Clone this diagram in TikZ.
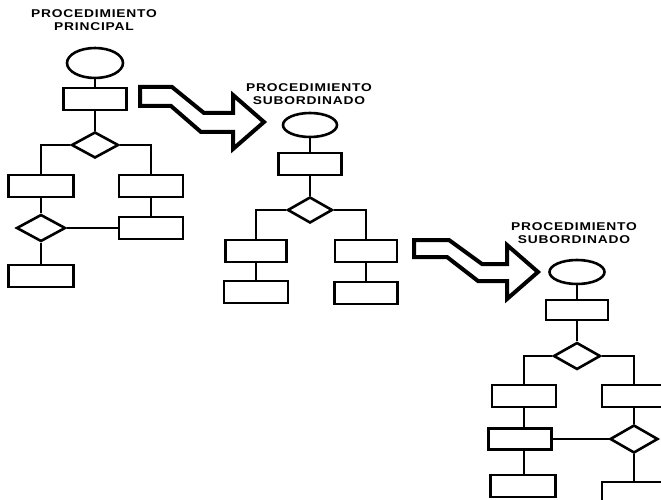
\documentclass[tikz,border=0pt]{standalone}
\usepackage{fontspec}
\newfontfamily\lblfont[FakeStretch=1.22,LetterSpace=7]{Liberation Sans}
\usetikzlibrary{shapes.geometric}
\begin{document}
\begin{tikzpicture}[x=1pt,y=-1pt,
  box/.style={draw,line width=2.8pt,rectangle,inner sep=0pt,minimum width=64pt,minimum height=22pt},
  oval/.style={draw,line width=2.6pt,ellipse,inner sep=0pt,minimum width=55pt,minimum height=26pt},
  dia/.style={draw,line width=2.6pt,diamond,inner sep=0pt,minimum width=47pt,minimum height=27pt},
  conn/.style={line width=2.5pt},
  title/.style={align=center,inner sep=0pt,font=\lblfont\bfseries\fontsize{11.3}{12.8}\selectfont},
  bigarrow/.style={line width=4pt,line join=miter}]
\useasboundingbox (0,0) rectangle (661,500);
\clip (0,0) rectangle (661,500);
% ---------- Chart 1
\node[title] (t1) at (94,20) {PROCEDIMIENTO\\PRINCIPAL};
\node[oval,minimum width=56pt,minimum height=30pt] (e1) at (95,63) {};
\node[box,minimum width=63pt] (r1) at (95,99) {};
\node[dia,minimum width=47pt,minimum height=26pt] (d1) at (95,145) {};
\node[box,minimum width=65pt] (ra) at (41,186) {};
\node[box] (rb) at (151,186) {};
\node[dia,minimum width=49pt] (d2) at (41,228) {};
\node[box] (rc) at (151,228) {};
\node[box,minimum width=65pt] (rd) at (41,276) {};
\draw[conn] (e1) -- (r1);
\draw[conn] (r1) -- (d1);
\draw[conn] (d1.west) -| (ra.north);
\draw[conn] (d1.east) -| (rb.north);
\draw[conn] (ra) -- (d2);
\draw[conn] (rb) -- (rc);
\draw[conn] (d2.east) -- (rc.west);
\draw[conn] (d2) -- (rd);
% ---------- Arrow 1
\draw[bigarrow] (140,87) -- (172,87) -- (204,113) -- (233,113) -- (233,95) -- (264,122)
  -- (233,149) -- (233,132) -- (201,132) -- (171,106) -- (140,106) -- cycle;
% ---------- Chart 2
\node[title] (t2) at (309,94) {PROCEDIMIENTO\\SUBORDINADO};
\node[oval,minimum width=54pt,minimum height=24pt] (e2) at (310,125) {};
\node[box,minimum width=63pt] (r2) at (310,164) {};
\node[dia,minimum width=45pt,minimum height=26pt] (d3) at (310,210) {};
\node[box,minimum width=61pt] (re) at (256,251) {};
\node[box,minimum width=62pt] (rf) at (366,251) {};
\node[box] (rg) at (256,292) {};
\node[box,minimum width=63pt] (rh) at (366,293) {};
\draw[conn] (e2) -- (r2);
\draw[conn] (r2) -- (d3);
\draw[conn] (d3.west) -| (re.north);
\draw[conn] (d3.east) -| (rf.north);
\draw[conn] (re) -- (rg);
\draw[conn] (rf) -- (rh);
% ---------- Arrow 2
\draw[bigarrow] (414,240) -- (449,240) -- (482,264) -- (507,264) -- (507,245) -- (538,272)
  -- (507,299) -- (507,281) -- (478,281) -- (447,257) -- (414,257) -- cycle;
% ---------- Chart 3
\node[title] (t3) at (574,233) {PROCEDIMIENTO\\SUBORDINADO};
\node[oval,minimum width=55pt,minimum height=24pt] (e3) at (577,272) {};
\node[box,minimum width=62pt,minimum height=20pt] (r3) at (577,310) {};
\node[dia] (d4) at (577,356) {};
\node[box] (ri) at (524,396) {};
\node[box] (rj) at (634,396) {};
\node[box,minimum width=63pt,minimum height=21pt] (rk) at (520,439) {};
\node[dia,minimum width=48pt,minimum height=28pt] (d5) at (634,439) {};
\node[box,minimum width=65pt] (rl) at (523,486) {};
\node[box] (rm) at (634,493) {};
\draw[conn] (e3) -- (r3);
\draw[conn] (r3) -- (d4);
\draw[conn] (d4.west) -| (ri.north);
\draw[conn] (d4.east) -| (rj.north);
\draw[conn] (ri.south) -- (ri.south |- rk.north);
\draw[conn] (rj) -- (d5);
\draw[conn] (rk.east) -- (d5.west);
\draw[conn] (ri.south |- rk.south) -- (ri.south |- rl.north);
\draw[conn] (d5) -- (rm);
\end{tikzpicture}
\end{document}
